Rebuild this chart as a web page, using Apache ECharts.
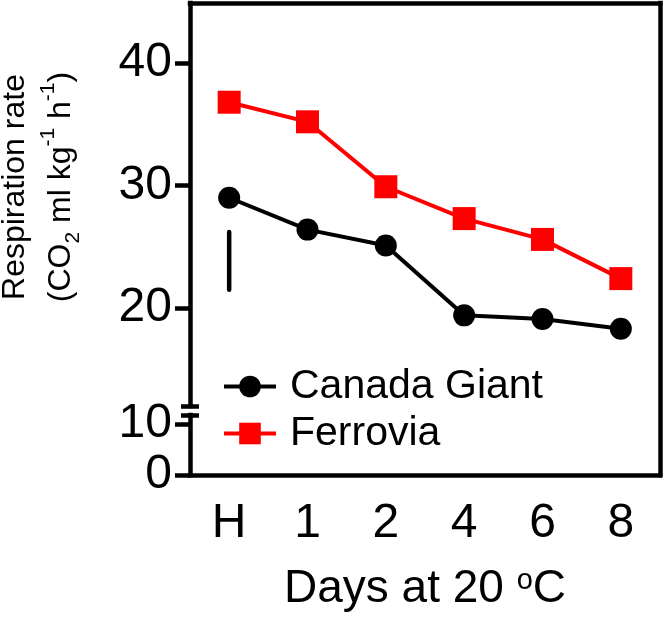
<!DOCTYPE html>
<html><head><meta charset="utf-8">
<script src="https://cdn.jsdelivr.net/npm/echarts@6/dist/echarts.min.js"></script>
<style>html,body{margin:0;padding:0;background:#fff}#c{width:666px;height:617px}</style>
</head><body><div id="c"></div>
<script>
const categories = ['H', '1', '2', '4', '6', '8'];
const canadaGiant = [29.0, 26.4, 25.1, 19.4, 19.1, 18.3];
const ferrovia = [36.8, 35.2, 29.9, 27.3, 25.6, 22.4];
const lsdBar = [26.2, 21.5];          // vertical bar drawn at "H"
const upperTicks = [20, 30, 40];
const lowerTicks = [0, 10];
const upperRange = [12, 44.9];
const lowerRange = [0, 11.8];

const FONT = '"Liberation Sans", Arial, Helvetica, sans-serif';
const AX = {color: '#000', width: 4.5, cap: 'square'};
const chart = echarts.init(document.getElementById('c'), null, {renderer: 'canvas'});

function breakAxis(grid, range, inside) {
  return {
    gridIndex: grid, type: 'value', position: 'left', min: range[0], max: range[1],
    axisLine: {show: false},
    axisTick: {show: true, inside: inside, length: 9, lineStyle: {color: '#000', width: 4.5},
      customValues: [grid === 0 ? range[0] : range[1]]},
    axisLabel: {show: false}, splitLine: {show: false}
  };
}

const option = {
  animation: false,
  backgroundColor: '#fff',
  grid: [
    {left: 190, right: 6, top: 3, height: 403},
    {left: 190, right: 6, top: 415, height: 60},
    {left: 190, right: 6, top: 3, height: 472}
  ],
  legend: {
    orient: 'vertical', left: 217, top: 358, itemWidth: 52, itemHeight: 27, itemGap: 0,
    selectedMode: false, data: ['Canada Giant', 'Ferrovia'],
    lineStyle: {width: 4},
    textStyle: {fontSize: 41, fontFamily: FONT, color: '#000', lineHeight: 47, padding: [0, 0, 0, 9]}
  },
  graphic: [{
    type: 'text', x: 38, y: 187, rotation: Math.PI / 2,
    style: {
      text: 'Respiration rate\n(CO{sub|2} ml kg{sup|-1} h{sup|-1})',
      fontSize: 32, fontFamily: FONT, fill: '#000', align: 'center', verticalAlign: 'middle',
      lineHeight: 46,
      rich: {
        sub: {fontSize: 21, fontFamily: FONT, fill: '#000', lineHeight: 20, verticalAlign: 'bottom'},
        sup: {fontSize: 21, fontFamily: FONT, fill: '#000', lineHeight: 20, verticalAlign: 'top'}
      }
    }
  }],
  xAxis: [
    {gridIndex: 0, type: 'category', data: categories, show: false},
    {
      gridIndex: 1, type: 'category', data: categories,
      axisLine: {onZero: false, lineStyle: AX},
      axisTick: {alignWithLabel: true, length: 15, lineStyle: {color: '#000', width: 4.5}},
      axisLabel: {fontSize: 48, color: '#000', fontFamily: FONT, margin: 25},
      name: 'Days at 20 {sup|o}C', nameLocation: 'middle', nameGap: 91,
      nameTextStyle: {fontSize: 46, fontFamily: FONT, color: '#000',
        rich: {sup: {fontSize: 29, fontFamily: FONT, color: '#000', verticalAlign: 'top'}}}
    },
    {
      gridIndex: 2, type: 'category', data: categories, position: 'top',
      axisLine: {onZero: false, lineStyle: AX}, axisTick: {show: false}, axisLabel: {show: false}
    }
  ],
  yAxis: [
    {
      gridIndex: 0, type: 'value', position: 'left', min: upperRange[0], max: upperRange[1],
      axisLine: {show: true, onZero: false, lineStyle: AX},
      axisTick: {show: true, length: 15, lineStyle: {color: '#000', width: 4.5}, customValues: upperTicks},
      axisLabel: {customValues: upperTicks, fontSize: 48, color: '#000', fontFamily: FONT, margin: 18},
      splitLine: {show: false}
    },
    breakAxis(0, upperRange, true),
    breakAxis(0, upperRange, false),
    {
      gridIndex: 1, type: 'value', position: 'left', min: lowerRange[0], max: lowerRange[1],
      axisLine: {show: true, onZero: false, lineStyle: AX},
      axisTick: {show: true, length: 15, lineStyle: {color: '#000', width: 4.5}, customValues: lowerTicks},
      axisLabel: {customValues: lowerTicks, fontSize: 48, color: '#000', fontFamily: FONT, margin: 18},
      splitLine: {show: false}
    },
    breakAxis(1, lowerRange, true),
    breakAxis(1, lowerRange, false),
    {
      gridIndex: 2, type: 'value', position: 'right', min: 0, max: 1,
      axisLine: {show: true, onZero: false, lineStyle: AX},
      axisTick: {show: false}, axisLabel: {show: false}, splitLine: {show: false}
    }
  ],
  series: [
    {
      name: 'Canada Giant', type: 'line', xAxisIndex: 0, yAxisIndex: 0, data: canadaGiant,
      symbol: 'circle', symbolSize: 22, lineStyle: {color: '#000', width: 4},
      itemStyle: {color: '#000'}, z: 3
    },
    {
      name: 'Ferrovia', type: 'line', xAxisIndex: 0, yAxisIndex: 0, data: ferrovia,
      symbol: 'rect', symbolSize: 23, lineStyle: {color: '#ff0000', width: 4},
      itemStyle: {color: '#ff0000'}, z: 3
    },
    {
      name: 'LSD', type: 'line', xAxisIndex: 0, yAxisIndex: 0,
      data: [[categories[0], lsdBar[0]], [categories[0], lsdBar[1]]],
      symbol: 'none', silent: true, lineStyle: {color: '#000', width: 4.5, cap: 'round'}, z: 3
    }
  ]
};
chart.setOption(option);
</script></body></html>
